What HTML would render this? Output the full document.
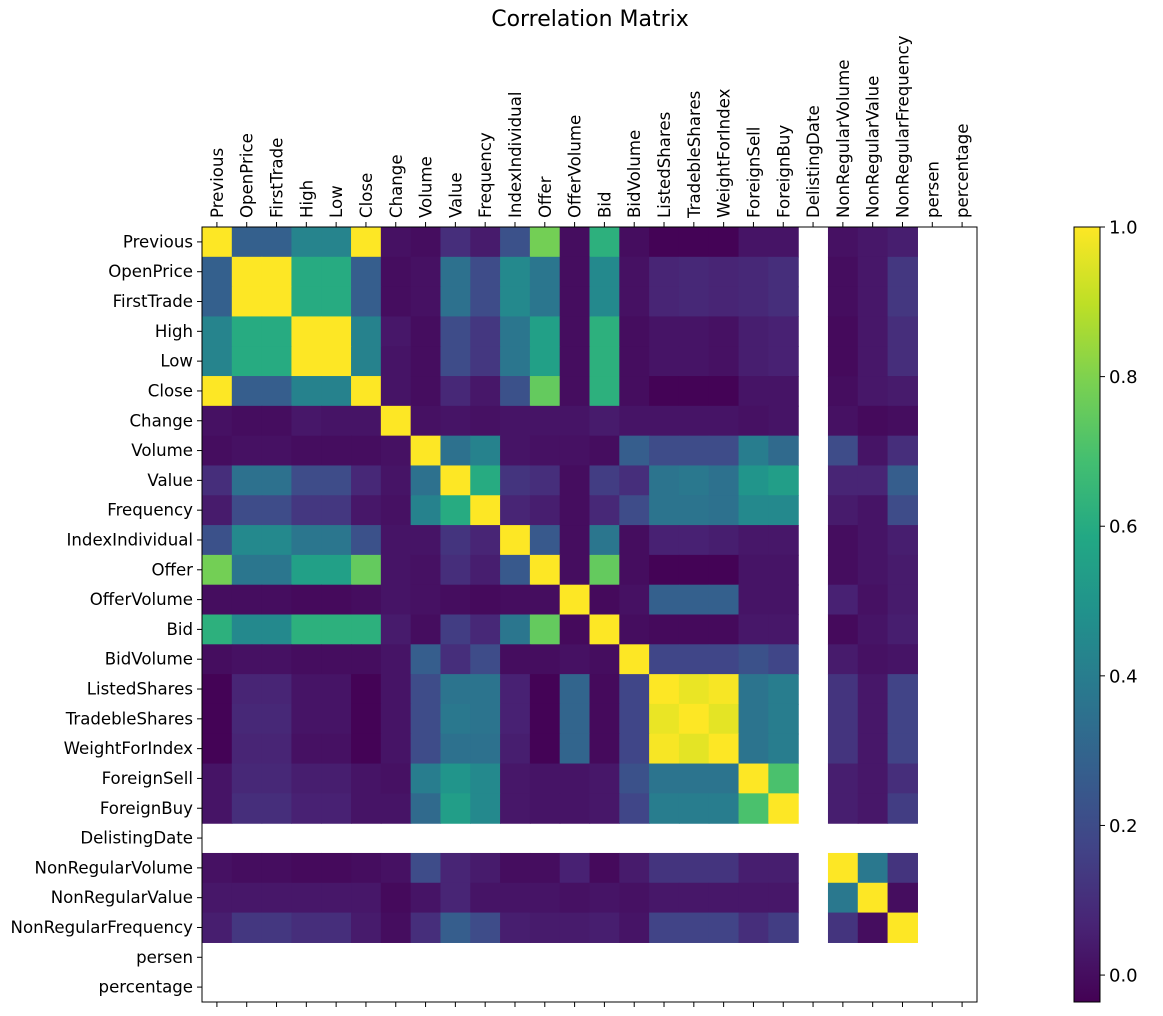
<!DOCTYPE html>
<html><head><meta charset="utf-8"><style>
body{margin:0;background:#fff;}
svg{display:block;font-family:"DejaVu Sans","Liberation Sans",sans-serif;}
</style></head><body>
<svg id="chart" width="1163" height="1016">
<text x="590" y="26" font-size="22" text-anchor="middle">Correlation Matrix</text>
<g id="cells"></g>
<g id="axes"></g>
<g id="cbar"></g>
</svg>
<script>
const labels = ["Previous","OpenPrice","FirstTrade","High","Low","Close","Change","Volume","Value","Frequency","IndexIndividual","Offer","OfferVolume","Bid","BidVolume","ListedShares","TradebleShares","WeightForIndex","ForeignSell","ForeignBuy","DelistingDate","NonRegularVolume","NonRegularValue","NonRegularFrequency","persen","percentage"];
const N = null;
const matrix = [
[1,0.28,0.28,0.43,0.43,1,0.01,0.0,0.1,0.04,0.22,0.78,0.0,0.62,0.0,-0.03,-0.03,-0.03,0.02,0.02,N,0.01,0.03,0.05,N,N],
[0.28,1,1,0.6,0.6,0.27,0.0,0.01,0.35,0.2,0.45,0.37,0.0,0.45,0.01,0.07,0.08,0.07,0.08,0.1,N,0.0,0.03,0.13,N,N],
[0.28,1,1,0.6,0.6,0.27,0.0,0.01,0.35,0.2,0.45,0.37,0.0,0.45,0.01,0.07,0.08,0.07,0.08,0.1,N,0.0,0.03,0.13,N,N],
[0.43,0.6,0.6,1,1,0.42,0.03,0.0,0.2,0.13,0.37,0.55,0.0,0.62,0.0,0.02,0.02,0.01,0.05,0.06,N,-0.01,0.03,0.1,N,N],
[0.43,0.6,0.6,1,1,0.42,0.02,0.0,0.2,0.13,0.37,0.55,0.0,0.62,0.0,0.02,0.02,0.01,0.05,0.06,N,-0.01,0.03,0.1,N,N],
[1,0.27,0.27,0.42,0.42,1,0.02,0.0,0.08,0.03,0.22,0.75,0.0,0.62,0.0,-0.03,-0.03,-0.03,0.02,0.02,N,0.0,0.03,0.04,N,N],
[0.01,0.0,0.0,0.03,0.02,0.02,1,0.01,0.02,0.01,0.02,0.02,0.02,0.04,0.02,0.02,0.02,0.02,0.01,0.02,N,0.01,-0.01,0.0,N,N],
[0.0,0.01,0.01,0.0,0.0,0.0,0.01,1,0.35,0.42,0.02,0.01,0.01,0.0,0.27,0.2,0.2,0.2,0.4,0.32,N,0.2,0.02,0.1,N,N],
[0.1,0.35,0.35,0.2,0.2,0.08,0.02,0.35,1,0.6,0.12,0.1,0.0,0.15,0.1,0.36,0.38,0.35,0.5,0.54,N,0.07,0.07,0.27,N,N],
[0.04,0.2,0.2,0.13,0.13,0.03,0.01,0.42,0.6,1,0.07,0.05,0.0,0.08,0.2,0.36,0.36,0.35,0.45,0.45,N,0.04,0.02,0.2,N,N],
[0.22,0.45,0.45,0.37,0.37,0.22,0.02,0.02,0.12,0.07,1,0.25,0.0,0.37,0.0,0.06,0.06,0.05,0.03,0.03,N,0.0,0.02,0.05,N,N],
[0.78,0.37,0.37,0.55,0.55,0.75,0.02,0.01,0.1,0.05,0.25,1,0.0,0.75,0.0,-0.03,-0.03,-0.03,0.02,0.02,N,0.0,0.02,0.04,N,N],
[0.0,0.0,0.0,-0.01,-0.01,0.0,0.02,0.01,0.0,-0.01,0.0,0.0,1,-0.01,0.01,0.28,0.28,0.28,0.02,0.02,N,0.06,0.01,0.04,N,N],
[0.62,0.45,0.45,0.62,0.62,0.62,0.04,0.0,0.15,0.08,0.37,0.75,-0.01,1,0.0,-0.01,-0.01,-0.01,0.03,0.03,N,-0.01,0.02,0.05,N,N],
[0.0,0.01,0.01,0.0,0.0,0.0,0.02,0.27,0.1,0.2,0.0,0.0,0.01,0.0,1,0.18,0.18,0.18,0.22,0.18,N,0.04,0.01,0.02,N,N],
[-0.03,0.07,0.07,0.02,0.02,-0.03,0.02,0.2,0.36,0.36,0.06,-0.03,0.3,-0.01,0.18,1,0.97,0.99,0.36,0.4,N,0.12,0.03,0.17,N,N],
[-0.03,0.08,0.08,0.02,0.02,-0.03,0.02,0.2,0.38,0.36,0.06,-0.03,0.3,-0.01,0.18,0.97,1,0.96,0.36,0.4,N,0.12,0.03,0.17,N,N],
[-0.03,0.07,0.07,0.01,0.01,-0.03,0.02,0.2,0.35,0.35,0.05,-0.03,0.3,-0.01,0.18,0.99,0.96,1,0.36,0.4,N,0.12,0.03,0.17,N,N],
[0.02,0.08,0.08,0.05,0.05,0.02,0.01,0.4,0.5,0.45,0.03,0.02,0.02,0.03,0.22,0.36,0.36,0.36,1,0.7,N,0.05,0.03,0.1,N,N],
[0.02,0.1,0.1,0.06,0.06,0.02,0.02,0.32,0.54,0.45,0.03,0.02,0.02,0.03,0.18,0.4,0.4,0.4,0.7,1,N,0.05,0.03,0.15,N,N],
[N,N,N,N,N,N,N,N,N,N,N,N,N,N,N,N,N,N,N,N,N,N,N,N,N,N],
[0.01,0.0,0.0,-0.01,-0.01,0.0,0.01,0.2,0.07,0.04,0.0,0.0,0.06,-0.01,0.04,0.12,0.12,0.12,0.05,0.05,N,1,0.38,0.12,N,N],
[0.03,0.03,0.03,0.03,0.03,0.03,-0.01,0.02,0.07,0.02,0.02,0.02,0.01,0.02,0.01,0.03,0.03,0.03,0.03,0.03,N,0.38,1,0.0,N,N],
[0.05,0.13,0.13,0.1,0.1,0.04,0.0,0.1,0.27,0.2,0.05,0.04,0.04,0.05,0.02,0.17,0.17,0.17,0.1,0.15,N,0.12,0.0,1,N,N],
[N,N,N,N,N,N,N,N,N,N,N,N,N,N,N,N,N,N,N,N,N,N,N,N,N,N],
[N,N,N,N,N,N,N,N,N,N,N,N,N,N,N,N,N,N,N,N,N,N,N,N,N,N]
];
const cbarTicks = [0.0,0.2,0.4,0.6,0.8,1.0];
const cbarTickLabels = ["0.0","0.2","0.4","0.6","0.8","1.0"];
const vmin = -0.036, vmax = 1.0;

const NS="http://www.w3.org/2000/svg";
const X0=202, Y0=227, W=775, H=775;
const n=labels.length, cw=W/n, ch=H/n;
const xPos=i=>X0+i*cw, yPos=i=>Y0+i*ch;
const vir=["#440154","#482475","#414487","#355f8d","#2a788e","#21918c","#22a884","#44bf70","#7ad151","#bddf26","#fde725"];
function hex(h){return [1,3,5].map(k=>parseInt(h.substr(k,2),16));}
function color(v){let t=(v-vmin)/(vmax-vmin);t=Math.max(0,Math.min(1,t));const f=t*10,i=Math.min(9,Math.floor(f)),r=f-i;const a=hex(vir[i]),b=hex(vir[i+1]);return "rgb("+a.map((x,k)=>Math.round(x+(b[k]-x)*r)).join(",")+")";}
function mk(tag,attrs,parent){const e=document.createElementNS(NS,tag);for(const k in attrs)e.setAttribute(k,attrs[k]);parent.appendChild(e);return e;}

const cells=document.getElementById('cells');
for(let r=0;r<n;r++)for(let c=0;c<n;c++){const v=matrix[r][c];if(v===null)continue;
 const e=mk('rect',{x:xPos(c),y:yPos(r),width:cw+0.6,height:ch+0.6,fill:color(v)},cells);
 
 }
const ax=document.getElementById('axes');
const fr=mk('rect',{x:X0,y:Y0,width:W,height:H,fill:'none',stroke:'#000','stroke-width':1},ax);


for(let i=0;i<n;i++){
 const cx=xPos(i)+cw/2, cy=yPos(i)+ch/2;
 mk('line',{x1:cx,x2:cx,y1:Y0-5,y2:Y0,stroke:'#000'},ax);
 mk('line',{x1:cx,x2:cx,y1:Y0+H,y2:Y0+H+5,stroke:'#000'},ax);
 mk('line',{x1:X0-5,x2:X0,y1:cy,y2:cy,stroke:'#000'},ax);
 const t=mk('text',{x:cx+6,y:Y0-9,'font-size':16.6,transform:`rotate(-90 ${cx+6} ${Y0-9})`},ax);
 t.textContent=labels[i];
 
 
 const l=mk('text',{x:X0-9,y:cy+5.5,'font-size':16.6,'text-anchor':'end'},ax);
 l.textContent=labels[i];
 
 
}
const cb=document.getElementById('cbar');
const CX=1074,CW=26;
const defs=mk('defs',{},cb);
const g=mk('linearGradient',{id:'vg',x1:0,y1:1,x2:0,y2:0},defs);
vir.forEach((c,i)=>mk('stop',{offset:i/10,'stop-color':c},g));
mk('rect',{x:CX,y:Y0,width:CW,height:H,fill:'url(#vg)',stroke:'#000','stroke-width':1},cb);
const cy=v=>Y0+H-(v-vmin)/(vmax-vmin)*H;
cbarTicks.forEach((v,i)=>{const y=cy(v);
 mk('line',{x1:CX+CW,x2:CX+CW+5,y1:y,y2:y,stroke:'#000'},cb);
 const t=mk('text',{x:CX+CW+9,y:y+6.5,'font-size':18},cb);
 t.textContent=cbarTickLabels[i];
 
 });
</script>
</body></html>
